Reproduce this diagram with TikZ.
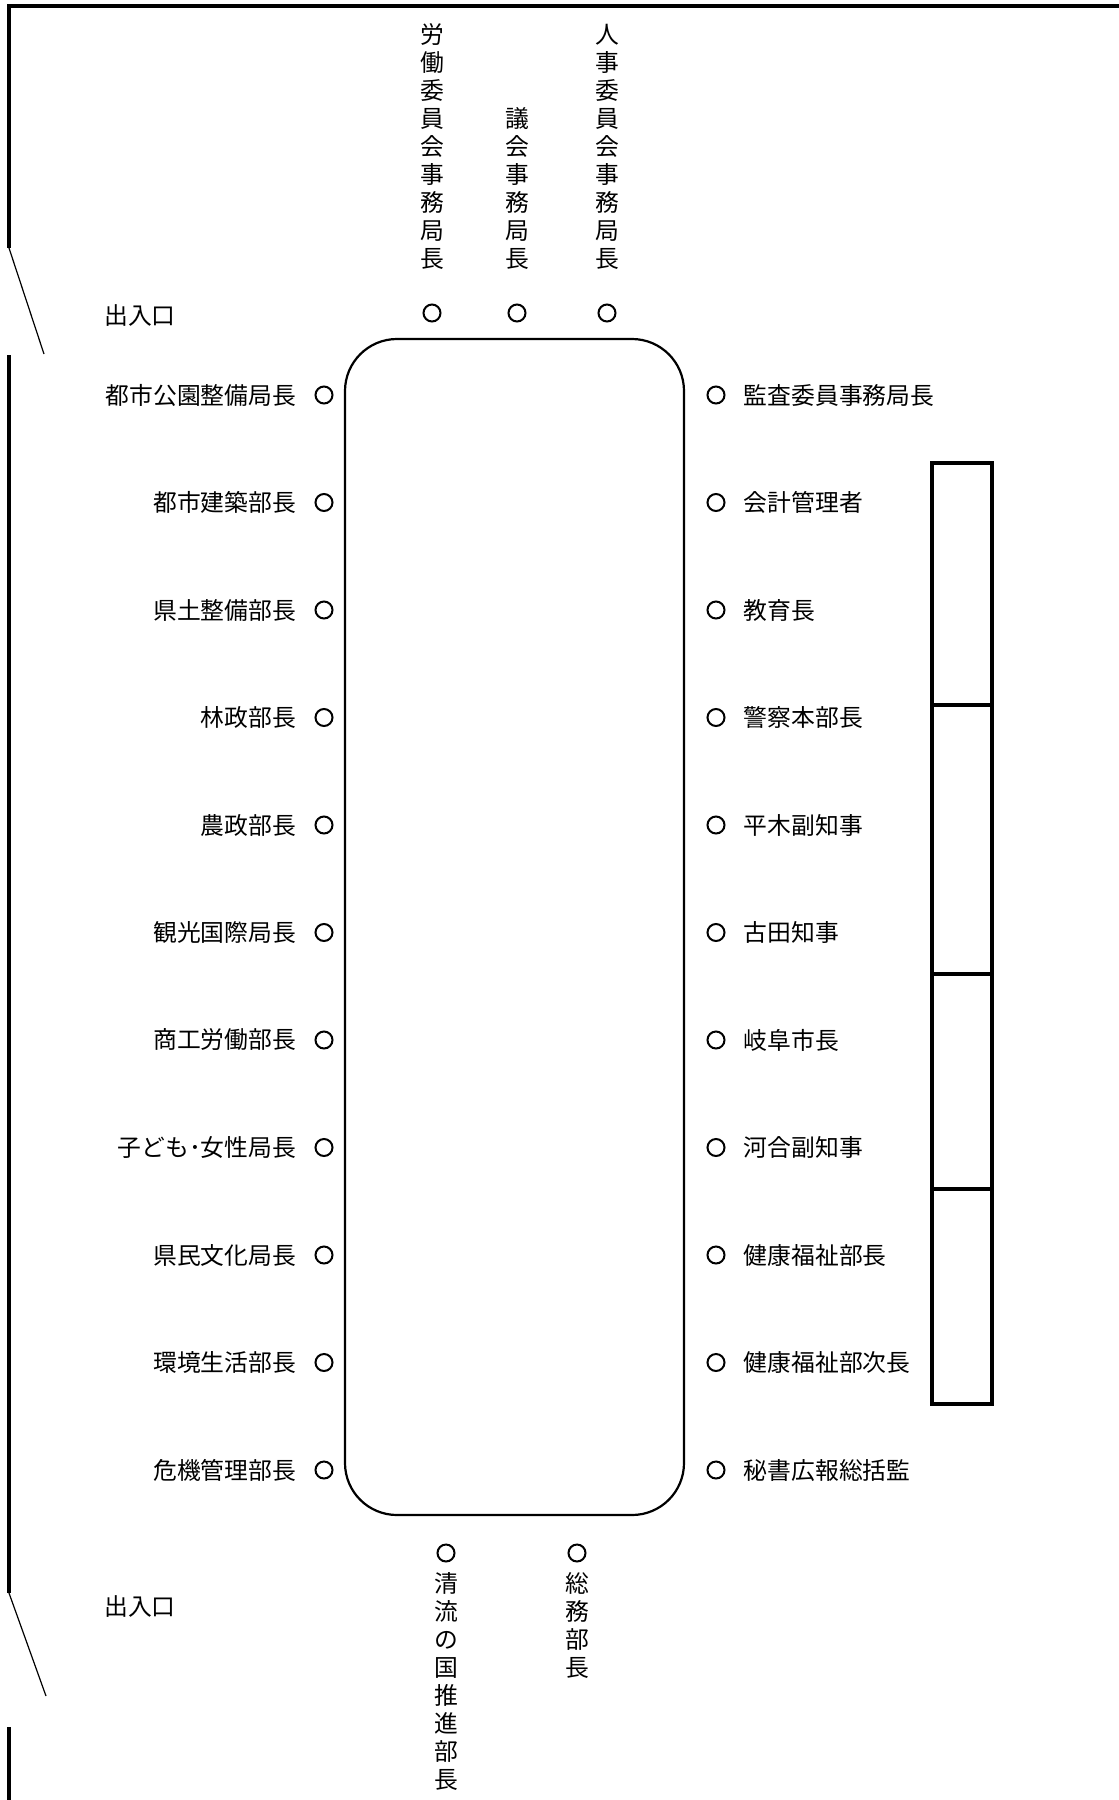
\documentclass[tikz,border=0pt]{standalone}
\usepackage{fontspec}
\newfontfamily\jpfont{Noto Sans CJK JP}
\usetikzlibrary{positioning}

\tikzset{
  seat/.style={draw,circle,line width=1pt,minimum size=8.5pt,inner sep=0pt},
  title/.style={font=\jpfont\fontsize{11.9pt}{14pt}\selectfont,inner sep=0pt},
  vtitle/.style={title,align=center},
  wall/.style={line width=1.6pt},
  door/.style={line width=0.6pt},
}

\begin{document}
\begin{tikzpicture}[x=0.5pt,y=-0.5pt]
\useasboundingbox (0,0) rectangle (1119,1800);
\def\leftNames{都市公園整備局長,都市建築部長,県土整備部長,林政部長,農政部長,観光国際局長,商工労働部長,子ども･女性局長,県民文化局長,環境生活部長,危機管理部長}
\def\rightNames{監査委員事務局長,会計管理者,教育長,警察本部長,平木副知事,古田知事,岐阜市長,河合副知事,健康福祉部長,健康福祉部次長,秘書広報総括監}

%walls
\draw[wall] (1125,6) -- (9,6) -- (9,248);
\draw[wall] (9,355) -- (9,1593);
\draw[wall] (9,1727) -- (9,1805);
\draw[door] (9,248) -- (44,354);
\draw[door] (9,1593) -- (46,1696);
\node[title] (door1) at (140,316) {出入口};
\node[title] (door2) at (140,1606) {出入口};

%table
\draw[line width=1.1pt,rounded corners=26pt] (345,339) rectangle (684,1515);

%box
\draw[wall] (932,463) rectangle (992,1404);
\foreach \y in {705,974,1189}
  \draw[wall] (932,\y) -- (992,\y);

%left and right seats
\foreach \n [count=\i] in \leftNames {
  \node[seat] (l\i) at (324,{395+107.5*(\i-1)}) {};
  \node[title,left=9pt of l\i] (ln\i) {\n};
}
\foreach \n [count=\i] in \rightNames {
  \node[seat] (r\i) at (716,{395+107.5*(\i-1)}) {};
  \node[title,right=9pt of r\i] (rn\i) {\n};
}

%top seats
\node[seat] (t1) at (432,313) {};
\node[seat] (t2) at (517,313) {};
\node[seat] (t3) at (607,313) {};
\node[vtitle,above=17pt of t1] (tn1) {労\\働\\委\\員\\会\\事\\務\\局\\長};
\node[vtitle,above=17pt of t2] (tn2) {議\\会\\事\\務\\局\\長};
\node[vtitle,above=17pt of t3] (tn3) {人\\事\\委\\員\\会\\事\\務\\局\\長};

%bottom seats
\node[seat] (b1) at (446,1553) {};
\node[seat] (b2) at (577,1553) {};
\node[vtitle,below=5pt of b1] (bn1) {清\\流\\の\\国\\推\\進\\部\\長};
\node[vtitle,below=5pt of b2] (bn2) {総\\務\\部\\長};
\end{tikzpicture}
\end{document}
